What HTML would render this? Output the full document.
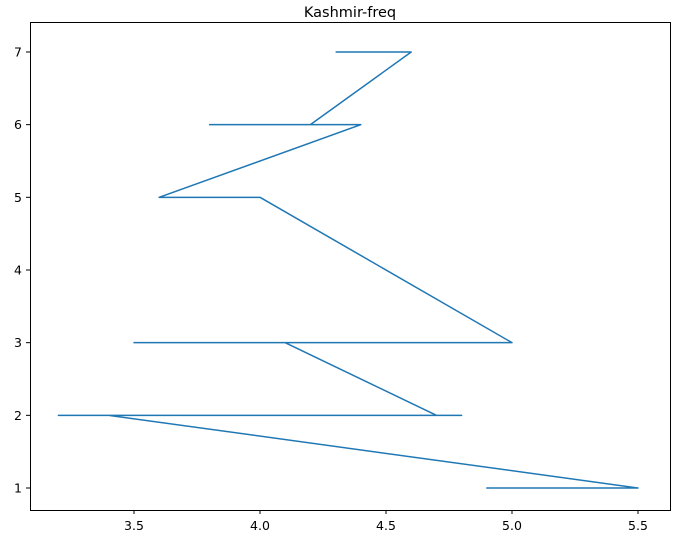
<!DOCTYPE html>
<html><head><meta charset="utf-8"><style>
body{margin:0;background:#fff;font-family:"DejaVu Sans","Liberation Sans",sans-serif;}
svg text{font-family:"DejaVu Sans","Liberation Sans",sans-serif;font-size:12.5px;fill:#000;}
</style></head><body>
<svg id="chart" width="678" height="544" xmlns="http://www.w3.org/2000/svg">
<text x="350" y="17" text-anchor="middle" style="font-size:14.5px">Kashmir-freq</text>
<g id="axes"></g>
<path id="line" fill="none" stroke="#1f77b4" stroke-width="1.5" stroke-linejoin="round"/>
<rect x="30.5" y="22.5" width="640" height="488" fill="none" stroke="#000" stroke-width="1"/>
</svg>
<script>
const xValues=[4.3,4.6,4.2,3.8,4.4,3.6,4.0,5.0,3.5,4.1,4.7,3.7,4.8,3.2,3.4,5.5,4.9,5.4];
const yValues=[7,7,6,6,6,5,5,3,3,3,2,2,2,2,2,1,1,1];
const xTicks=[3.5,4.0,4.5,5.0,5.5];
const xTickLabels=["3.5","4.0","4.5","5.0","5.5"];
const yTicks=[1,2,3,4,5,6,7];
const yTickLabels=["1","2","3","4","5","6","7"];
function sx(v){return 134+(v-3.5)*252;}
function sy(v){return 488-(v-1)*72.67;}
const ns="http://www.w3.org/2000/svg";
const g=document.getElementById('axes');
xTicks.forEach((t,i)=>{
 const l=document.createElementNS(ns,'line');
 
 
 l.setAttribute('x1',sx(t));l.setAttribute('x2',sx(t));l.setAttribute('y1',510);l.setAttribute('y2',514);l.setAttribute('stroke','#000');
 g.appendChild(l);
 const tx=document.createElementNS(ns,'text');
 
 
 tx.setAttribute('x',sx(t));tx.setAttribute('y',530);tx.setAttribute('text-anchor','middle');tx.textContent=xTickLabels[i];
 g.appendChild(tx);
});
yTicks.forEach((t,i)=>{
 const l=document.createElementNS(ns,'line');
 
 
 l.setAttribute('x1',26);l.setAttribute('x2',30);l.setAttribute('y1',sy(t));l.setAttribute('y2',sy(t));l.setAttribute('stroke','#000');
 g.appendChild(l);
 const tx=document.createElementNS(ns,'text');
 
 
 tx.setAttribute('x',22);tx.setAttribute('y',sy(t)+4.5);tx.setAttribute('text-anchor','end');tx.textContent=yTickLabels[i];
 g.appendChild(tx);
});
document.getElementById('line').setAttribute('d',xValues.map((x,i)=>(i?'L':'M')+sx(x)+' '+sy(yValues[i])).join(' '));
</script>
</body></html>
